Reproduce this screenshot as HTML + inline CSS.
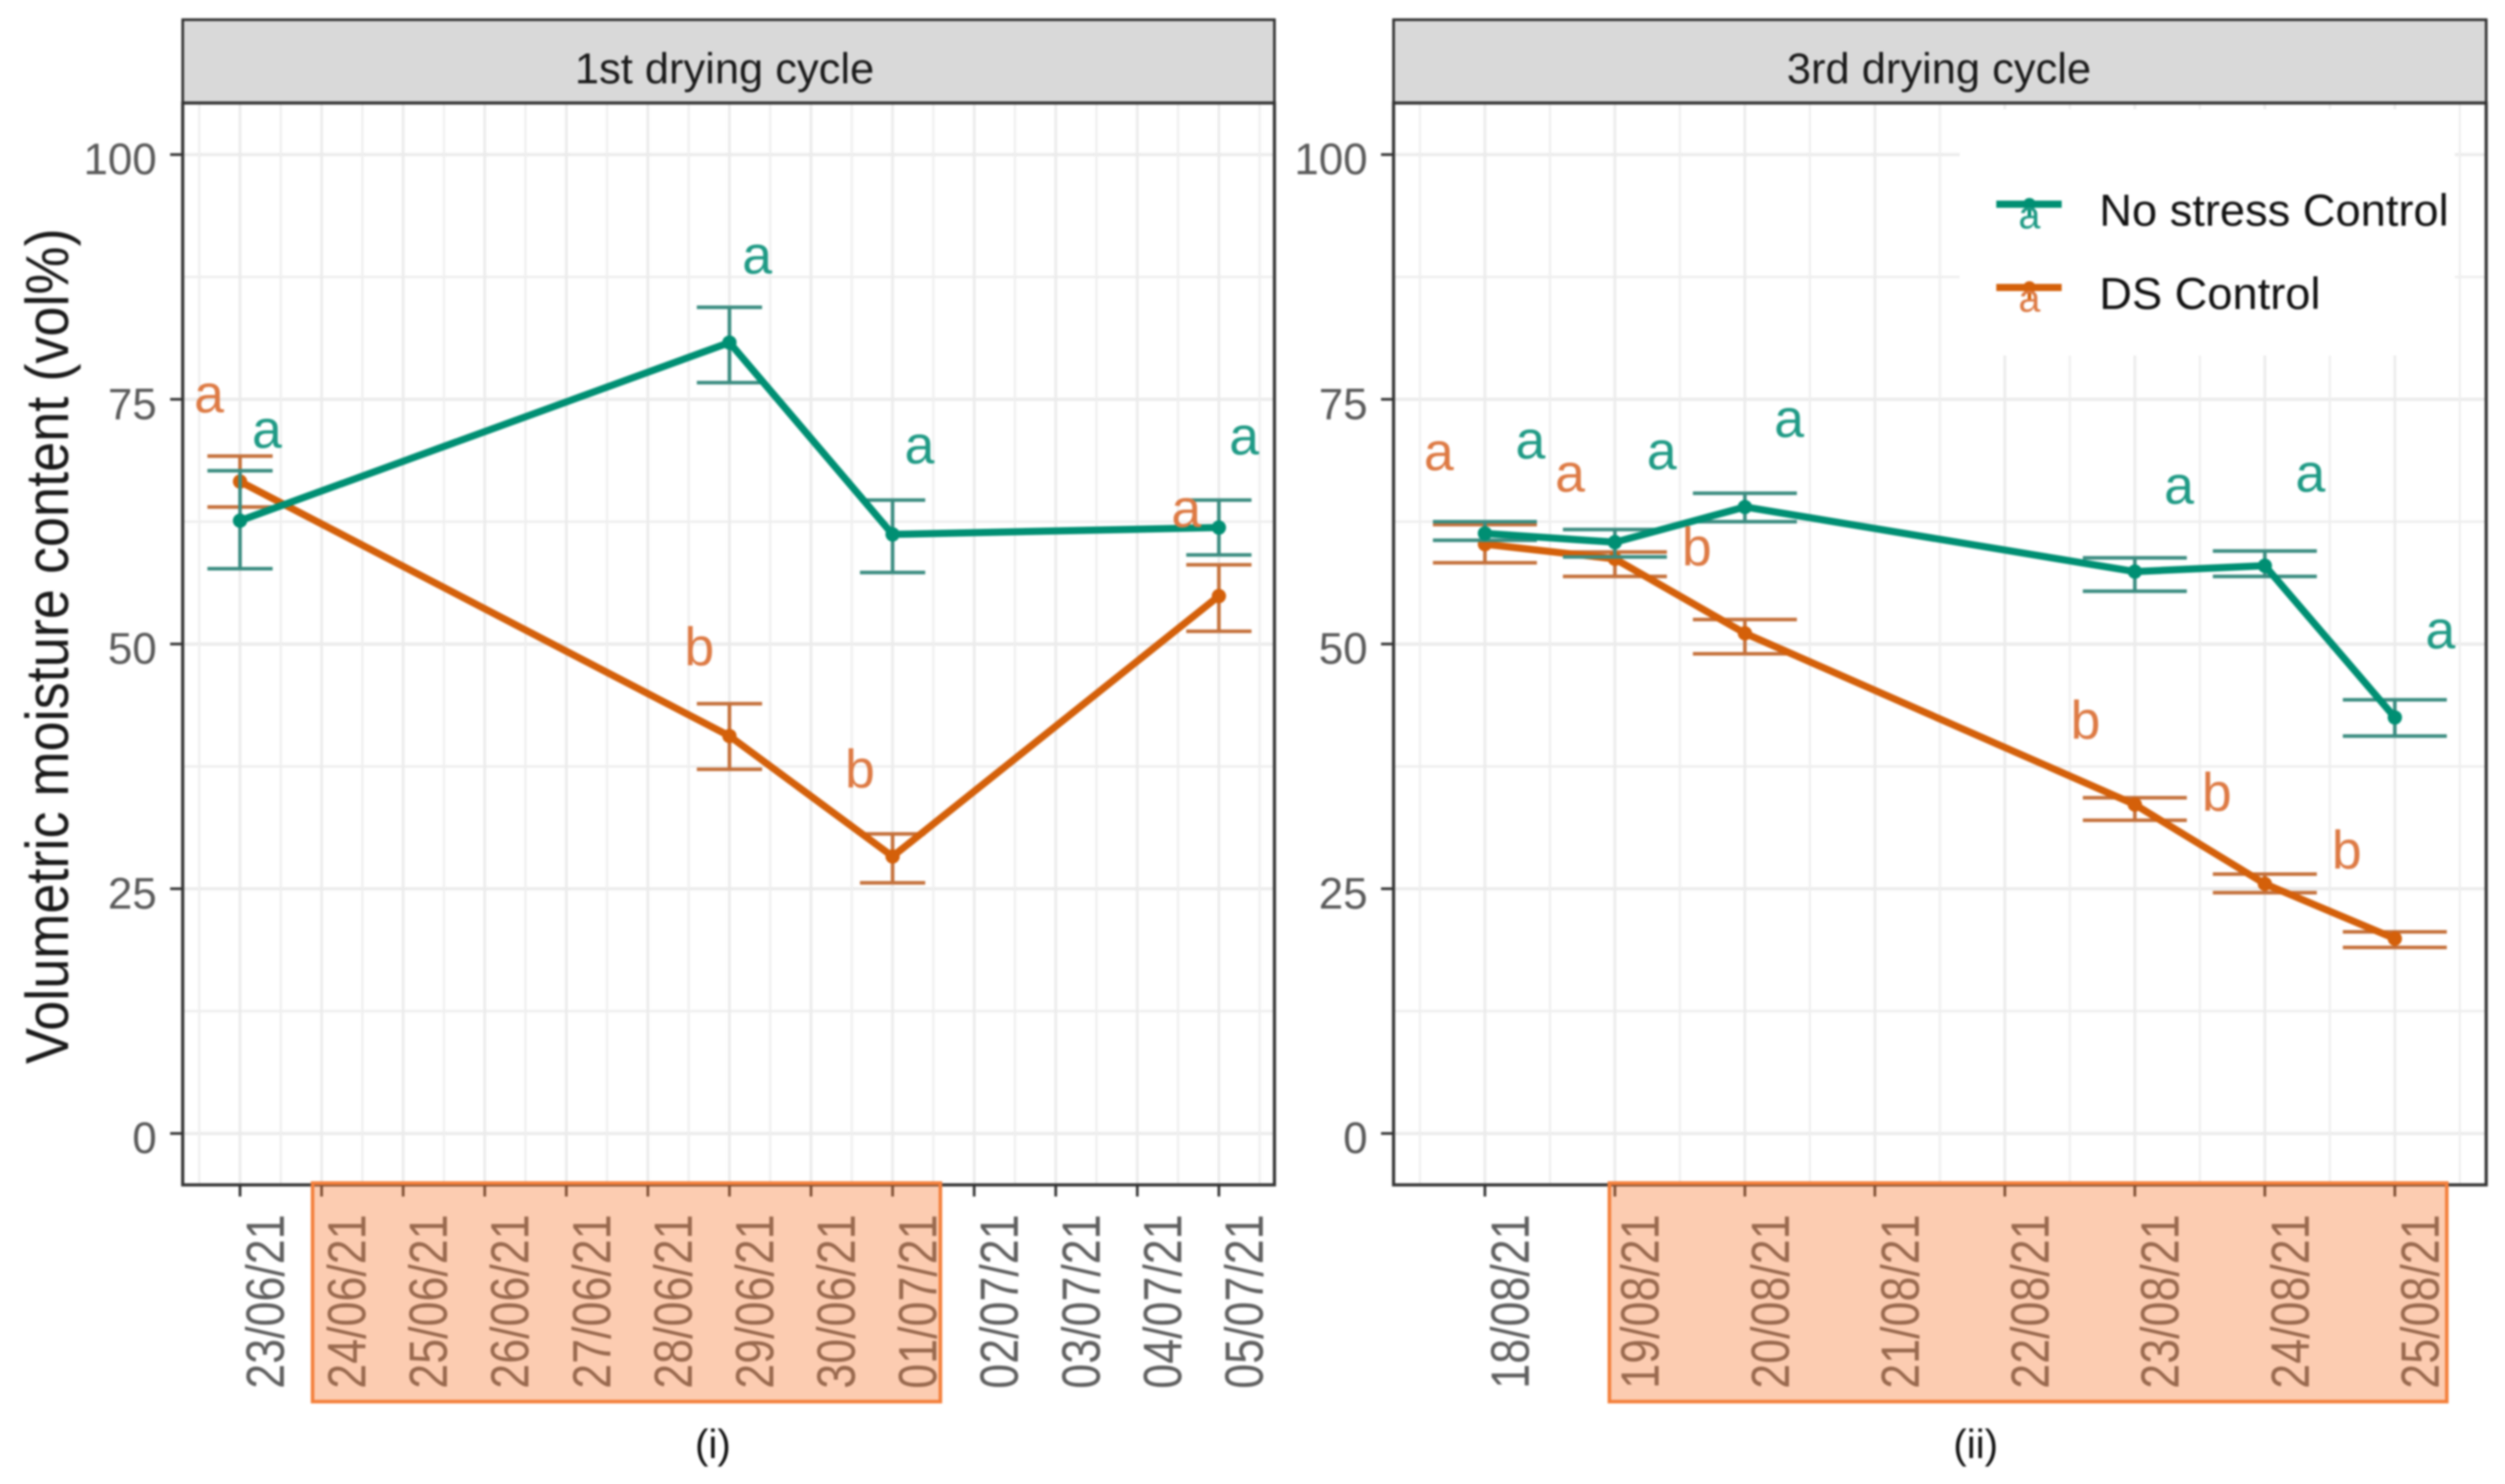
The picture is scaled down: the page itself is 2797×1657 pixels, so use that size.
<!DOCTYPE html>
<html lang="en">
<head>
<meta charset="utf-8">
<title>Volumetric moisture content by drying cycle</title>
<style>
html,body{margin:0;padding:0;background:#fff;width:2797px;height:1657px;overflow:hidden}
svg{display:block;filter:blur(1px)}
text{font-family:"Liberation Sans",sans-serif}
</style>
</head>
<body>
<svg id="chart" xmlns="http://www.w3.org/2000/svg" width="2797" height="1657" viewBox="0 0 2797 1657"></svg>
<script>
// ---- shared value axis data ----
const valueTicks = [0, 25, 50, 75, 100];
const valueMinorTicks = [12.5, 37.5, 62.5, 87.5];

// ---- 1st drying cycle ----
const cycle1Title = "1st drying cycle";
const cycle1Caption = "(i)";
const cycle1Dates = ["23/06/21","24/06/21","25/06/21","26/06/21","27/06/21","28/06/21","29/06/21","30/06/21","01/07/21","02/07/21","03/07/21","04/07/21","05/07/21"];
const cycle1Days = [0, 6, 8, 12];
const cycle1NoStress = [62.6, 80.8, 61.2, 61.9];
const cycle1NoStressUpper = [67.7, 84.4, 64.7, 64.7];
const cycle1NoStressLower = [57.7, 76.7, 57.3, 59.1];
const cycle1Ds = [66.6, 40.6, 28.3, 54.9];
const cycle1DsUpper = [69.2, 43.9, 30.6, 58.1];
const cycle1DsLower = [64.0, 37.2, 25.6, 51.3];
const cycle1NoStressLetters = ["a","a","a","a"];
const cycle1NoStressLetterDays = [0.33, 6.34, 8.33, 12.31];
const cycle1NoStressLetterValues = [71.6, 89.4, 70.0, 70.9];
const cycle1DsLetters = ["a","b","b","a"];
const cycle1DsLetterDays = [-0.38, 5.63, 7.6, 11.6];
const cycle1DsLetterValues = [75.2, 49.7, 37.2, 63.5];

// ---- 3rd drying cycle ----
const cycle3Title = "3rd drying cycle";
const cycle3Caption = "(ii)";
const cycle3Dates = ["18/08/21","19/08/21","20/08/21","21/08/21","22/08/21","23/08/21","24/08/21","25/08/21"];
const cycle3Days = [0, 1, 2, 5, 6, 7];
const cycle3NoStress = [61.3, 60.4, 64.0, 57.4, 58.0, 42.5];
const cycle3NoStressUpper = [62.5, 61.7, 65.4, 58.8, 59.5, 44.3];
const cycle3NoStressLower = [60.6, 58.9, 62.5, 55.4, 56.9, 40.6];
const cycle3Ds = [60.2, 58.7, 51.1, 33.6, 25.5, 19.9];
const cycle3DsUpper = [62.2, 59.4, 52.5, 34.3, 26.5, 20.6];
const cycle3DsLower = [58.3, 56.9, 49.0, 32.0, 24.6, 19.0];
const cycle3NoStressLetters = ["a","a","a","a","a","a"];
const cycle3NoStressLetterDays = [0.35, 1.36, 2.34, 5.34, 6.35, 7.35];
const cycle3NoStressLetterValues = [70.5, 69.4, 72.7, 65.9, 67.1, 51.1];
const cycle3DsLetters = ["a","a","b","b","b","b"];
const cycle3DsLetterDays = [-0.354, 0.655, 1.63, 4.62, 5.63, 6.63];
const cycle3DsLetterValues = [69.3, 67.1, 59.9, 42.2, 34.8, 28.9];

// ---- legend ----
const seriesNames = ["No stress Control", "DS Control"];

// ---- styling / layout ----
const TEAL = "#008f73", TEAL_BAR = "#3a8c80", TEAL_TXT = "#1f9a85";
const ORANGE = "#d4600a", ORANGE_BAR = "#c4703a", ORANGE_TXT = "#dd7a44";
const NS = "http://www.w3.org/2000/svg";
const svg = document.getElementById("chart");
const PANEL_TOP = 22, STRIP_BOTTOM = 115, PANEL_BOTTOM = 1323;

const yScale = v => 1265.6 - v * 10.93;

function make(parent, tag, attrs, txt) {
  const el = document.createElementNS(NS, tag);
  for (const k in attrs) el.setAttribute(k, attrs[k]);
  if (txt !== undefined) el.textContent = txt;
  parent.appendChild(el);
  return el;
}

function seg(parent, x1, y1, x2, y2, color, width) {
  return make(parent, "line", {x1, y1, x2, y2, stroke: color, "stroke-width": width});
}

function drawSeries(g, xScale, cfg, slug) {
  const capHalf = cfg.capHalf;
  cfg.days.forEach((d, i) => {
    const x = xScale(d);
    const hi = yScale(cfg.upper[i]), lo = yScale(cfg.lower[i]);
    const bar = make(g, "path", {
      d: `M${x - capHalf} ${hi}H${x + capHalf}M${x} ${hi}V${lo}M${x - capHalf} ${lo}H${x + capHalf}`,
      fill: "none", stroke: cfg.barColor, "stroke-width": 4
    });
    
    
  });
  const pts = cfg.days.map((d, i) => xScale(d) + "," + yScale(cfg.values[i])).join(" ");
  const line = make(g, "polyline", {points: pts, fill: "none", stroke: cfg.color, "stroke-width": 8, "stroke-linejoin": "round"});
  
  
  cfg.days.forEach((d, i) => {
    const c = make(g, "circle", {cx: xScale(d), cy: yScale(cfg.values[i]), r: 8, fill: cfg.color});
    
    
  });
}

function drawLetters(g, xScale, letters, days, values, color, slug) {
  letters.forEach((ch, i) => {
    const t = make(g, "text", {
      x: xScale(days[i]), y: yScale(values[i]) + (ch === "a" ? 17 : 20),
      "text-anchor": "middle", "font-size": 60, fill: color
    }, ch);
    
    
  });
}

function drawPanel(p) {
  const g = make(svg, "g", {});
  
  

  const n = p.dates.length;
  const xScale = d => p.firstTick + d * p.step;

  // gridlines
  const grid = make(g, "g", {});
  
  
  valueMinorTicks.forEach(v => seg(grid, p.left, yScale(v), p.right, yScale(v), "#ededed", 2.5));
  valueTicks.forEach(v => seg(grid, p.left, yScale(v), p.right, yScale(v), "#ebebeb", 3.5));
  for (let i = -1; i < n; i++) {
    const mx = xScale(i + 0.5);
    seg(grid, mx, STRIP_BOTTOM, mx, PANEL_BOTTOM, "#efefef", 2.5);
  }
  p.dates.forEach((_, i) => seg(grid, xScale(i), STRIP_BOTTOM, xScale(i), PANEL_BOTTOM, "#ebebeb", 3));

  if (p.legend) {
    const bg = make(g, "rect", {x: 2188, y: 122, width: 553, height: 275, fill: "#fff"});
    
    
  }

  // series
  drawSeries(g, xScale, {days: p.days, values: p.ds, upper: p.dsUpper, lower: p.dsLower, color: ORANGE, barColor: ORANGE_BAR, capHalf: p.step * 0.4}, p.slug + '-ds-control');
  drawSeries(g, xScale, {days: p.days, values: p.ns, upper: p.nsUpper, lower: p.nsLower, color: TEAL, barColor: TEAL_BAR, capHalf: p.step * 0.4}, p.slug + '-no-stress');
  drawLetters(g, xScale, p.nsLetters, p.nsLetterDays, p.nsLetterValues, TEAL_TXT, p.slug + '-no-stress');
  drawLetters(g, xScale, p.dsLetters, p.dsLetterDays, p.dsLetterValues, ORANGE_TXT, p.slug + '-ds-control');

  // strip
  const strip = make(g, "rect", {x: p.left, y: PANEL_TOP, width: p.right - p.left, height: STRIP_BOTTOM - PANEL_TOP, fill: "#d9d9d9", stroke: "#333", "stroke-width": 3});
  
  
  const title = make(g, "text", {x: p.titleX, y: 93, "text-anchor": "middle", "font-size": 48.5, fill: "#1a1a1a"}, p.title);
  
  

  // border
  const border = make(g, "rect", {x: p.left, y: STRIP_BOTTOM, width: p.right - p.left, height: PANEL_BOTTOM - STRIP_BOTTOM, fill: "none", stroke: "#333", "stroke-width": 3.5});
  
  

  // value axis
  valueTicks.forEach(v => {
    const tick = seg(g, p.left - 14, yScale(v), p.left, yScale(v), "#333", 3);
    
    
    const lab = make(g, "text", {x: p.left - 29, y: yScale(v) + 22, "text-anchor": "end", "font-size": 49, fill: "#595959"}, String(v));
    
    
  });

  // date axis
  p.dates.forEach((label, i) => {
    const x = xScale(i);
    const tick = seg(g, x, PANEL_BOTTOM, x, PANEL_BOTTOM + 13, "#333", 3);
    
    
    const lab = make(g, "text", {
      transform: `translate(${x + 49} 1356) rotate(-90) scale(1 1.2)`,
      "text-anchor": "end", "font-size": 50, fill: "#5f5f5f"
    }, label);
    
    
  });

  // highlighted drying period
  const box = make(g, "rect", {x: p.boxX, y: 1321, width: p.boxW, height: 244, fill: "rgb(246,122,50)", "fill-opacity": 0.38, stroke: "#f4803c", "stroke-width": 4});
  
  

  const cap = make(g, "text", {x: p.captionX, y: 1628, "text-anchor": "middle", "font-size": 45, fill: "#111"}, p.caption);
  
  
}

drawPanel({
  slug: 'cycle-1', left: 204, right: 1423, firstTick: 268, step: 91.08, titleX: 809,
  title: cycle1Title, caption: cycle1Caption, captionX: 796, boxX: 349, boxW: 701,
  dates: cycle1Dates, days: cycle1Days,
  ns: cycle1NoStress, nsUpper: cycle1NoStressUpper, nsLower: cycle1NoStressLower,
  ds: cycle1Ds, dsUpper: cycle1DsUpper, dsLower: cycle1DsLower,
  nsLetters: cycle1NoStressLetters, nsLetterDays: cycle1NoStressLetterDays, nsLetterValues: cycle1NoStressLetterValues,
  dsLetters: cycle1DsLetters, dsLetterDays: cycle1DsLetterDays, dsLetterValues: cycle1DsLetterValues,
  legend: false
});
drawPanel({
  slug: 'cycle-3', left: 1556, right: 2776, firstTick: 1658, step: 145.14, titleX: 2165,
  title: cycle3Title, caption: cycle3Caption, captionX: 2206, boxX: 1797, boxW: 935,
  dates: cycle3Dates, days: cycle3Days,
  ns: cycle3NoStress, nsUpper: cycle3NoStressUpper, nsLower: cycle3NoStressLower,
  ds: cycle3Ds, dsUpper: cycle3DsUpper, dsLower: cycle3DsLower,
  nsLetters: cycle3NoStressLetters, nsLetterDays: cycle3NoStressLetterDays, nsLetterValues: cycle3NoStressLetterValues,
  dsLetters: cycle3DsLetters, dsLetterDays: cycle3DsLetterDays, dsLetterValues: cycle3DsLetterValues,
  legend: true
});

// y axis title
const yTitle = make(svg, "text", {
  transform: "translate(76 1188) rotate(-90) scale(1 1.12)",
  "font-size": 60.4, fill: "#1a1a1a"
}, "Volumetric moisture content (vol%)");



// legend
const legend = make(svg, "g", {});


seriesNames.forEach((name, i) => {
  const colors = [TEAL, ORANGE], txtColors = [TEAL_TXT, ORANGE_TXT];
  const ky = 228 + i * 93;
  const entry = make(legend, "g", {});
  
  
  seg(entry, 2229, ky, 2302, ky, colors[i], 8);
  seg(entry, 2266, ky, 2266, ky + 14, colors[i], 4);
  make(entry, "circle", {cx: 2266, cy: ky, r: 7, fill: colors[i]});
  make(entry, "text", {x: 2266, y: ky + 27, "text-anchor": "middle", "font-size": 44, fill: txtColors[i]}, "a");
  make(entry, "text", {x: 2344, y: ky + 24, "font-size": 50.5, fill: "#111"}, name);
});
</script>
</body>
</html>
